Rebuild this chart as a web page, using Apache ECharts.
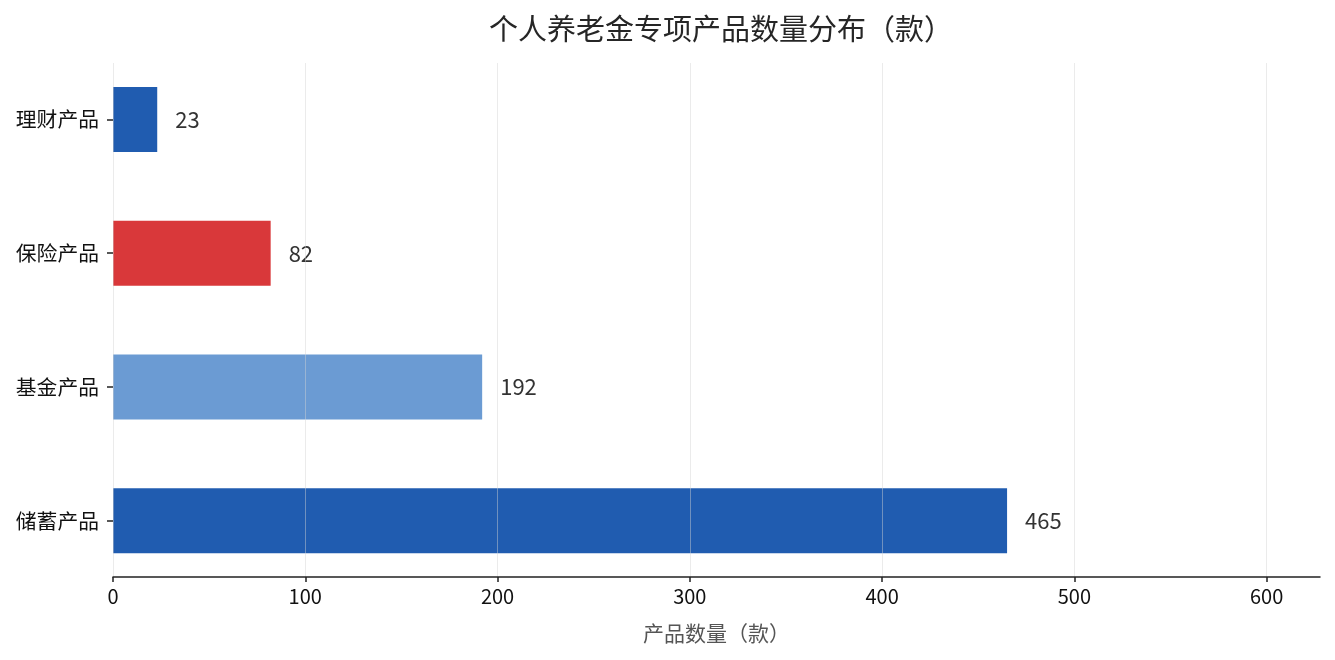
<!DOCTYPE html>
<html>
<head>
<meta charset="utf-8">
<script src="https://cdn.jsdelivr.net/npm/echarts@6/dist/echarts.min.js"></script>
<style>
html,body{margin:0;padding:0;background:#fff;}
#chart{width:1335px;height:660px;}
</style>
</head>
<body>
<div id="chart"></div>
<script>
const categories = ['储蓄产品', '基金产品', '保险产品', '理财产品'];
const counts = [465, 192, 82, 23];
const barColors = ['#205cb0', '#6b9bd3', '#d9383a', '#205cb0'];
const xTicks = [0, 100, 200, 300, 400, 500, 600];
const titleText = '个人养老金专项产品数量分布（款）';
const xName = '产品数量（款）';

const FONT = '"Noto Sans CJK SC", "Noto Sans", sans-serif';
const XMAX = 627.75;

const chart = echarts.init(document.getElementById('chart'));
chart.setOption({
  backgroundColor: '#fff',
  animation: false,
  textStyle: { fontFamily: FONT },
  title: {
    text: titleText,
    left: 484,
    top: 9,
    textStyle: { fontFamily: FONT, fontSize: 29, fontWeight: 'normal', color: '#262626' }
  },
  grid: [
    { left: 113, right: 15, top: 63, bottom: 83, containLabel: false },
    { left: 113, right: 15, top: 52.6, bottom: 72.4, containLabel: false }
  ],
  xAxis: [
    {
      type: 'value', gridIndex: 0, min: 0, max: XMAX, interval: 100,
      z: 10,
      axisLine: { show: true, lineStyle: { color: '#222', width: 1.5 } },
      axisTick: { show: true, length: 5, customValues: xTicks, lineStyle: { color: '#222', width: 1.5 } },
      axisLabel: {
        fontFamily: FONT, fontSize: 20, color: '#111', margin: 9,
        customValues: xTicks
      },
      splitLine: { show: true, lineStyle: { color: 'rgba(210,210,210,0.45)', width: 1 } },
      name: xName,
      nameLocation: 'middle',
      nameGap: 46,
      nameTextStyle: { fontFamily: FONT, fontSize: 21, color: '#555' }
    },
    {
      type: 'value', gridIndex: 1, min: 0, max: XMAX, show: false,
      splitLine: { show: false }
    }
  ],
  yAxis: [
    { type: 'value', gridIndex: 0, show: false, splitLine: { show: false } },
    {
      type: 'category', gridIndex: 1, data: categories,
      axisLine: { show: false },
      axisTick: { show: true, alignWithLabel: true, length: 6, lineStyle: { color: '#222', width: 1.5 } },
      axisLabel: { fontFamily: FONT, fontSize: 20.8, color: '#111', margin: 14 },
      splitLine: { show: false }
    }
  ],
  series: [
    {
      type: 'bar',
      xAxisIndex: 1,
      yAxisIndex: 1,
      barWidth: 65,
      data: counts.map((v, i) => ({ value: v, itemStyle: { color: barColors[i] } })),
      label: {
        show: true, position: 'right', distance: 18,
        fontFamily: FONT, fontSize: 22, color: '#333'
      }
    }
  ]
});
</script>
</body>
</html>
